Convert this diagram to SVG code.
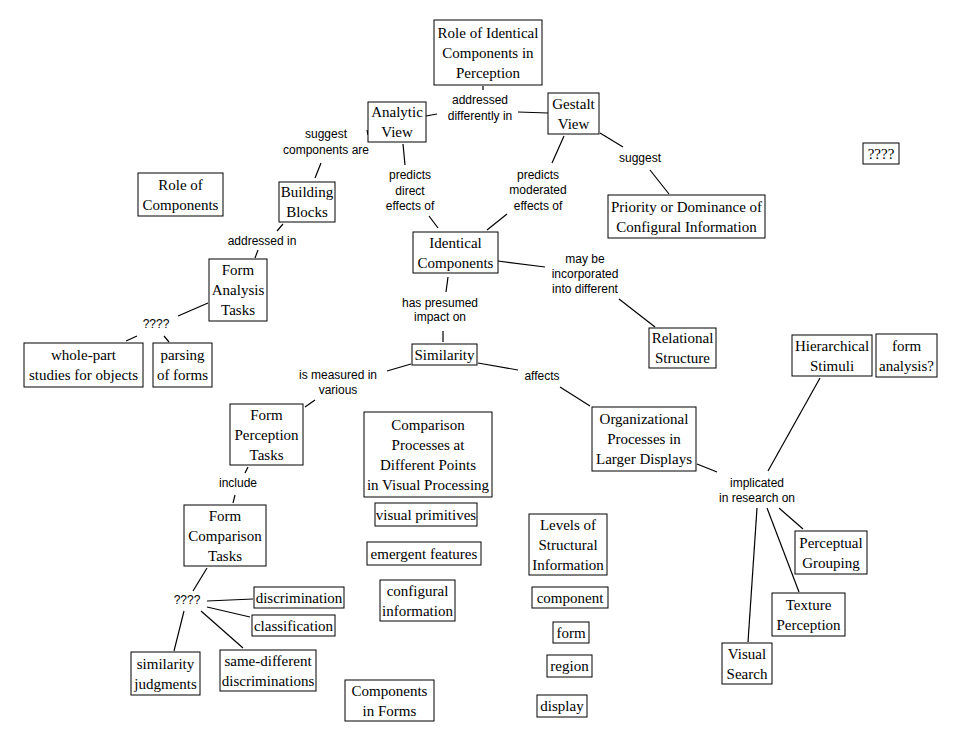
<svg xmlns="http://www.w3.org/2000/svg" width="961" height="742" viewBox="0 0 961 742">
<style>
.n rect{fill:#fff;stroke:#000;stroke-width:1}
.n text{font-family:"Liberation Serif","Times New Roman",serif;font-size:15px;fill:#000;text-anchor:middle}
.l text{font-family:"Liberation Sans",Arial,sans-serif;font-size:12px;fill:#000;text-anchor:middle}
.c line{stroke:#000;stroke-width:1.2}
</style>
<rect width="961" height="742" fill="#fff"/>
<g class="c" id="connectors">
<line x1="483" y1="86" x2="483" y2="90"/>
<line x1="426" y1="116" x2="437" y2="114"/>
<line x1="518" y1="112" x2="548" y2="113"/>
<line x1="367" y1="130" x2="368" y2="135"/>
<line x1="321" y1="163" x2="315" y2="178"/>
<line x1="403" y1="144" x2="405" y2="165"/>
<line x1="429" y1="216" x2="438" y2="228"/>
<line x1="564" y1="136" x2="552" y2="163"/>
<line x1="507" y1="214" x2="487" y2="230"/>
<line x1="600" y1="133" x2="623" y2="147"/>
<line x1="650" y1="170" x2="669" y2="194"/>
<line x1="283" y1="224" x2="277" y2="231"/>
<line x1="258" y1="250" x2="255" y2="258"/>
<line x1="208" y1="303" x2="178" y2="316"/>
<line x1="137" y1="336" x2="126" y2="341"/>
<line x1="164" y1="336" x2="169" y2="342"/>
<line x1="448" y1="277" x2="446" y2="292"/>
<line x1="443" y1="331" x2="443" y2="342"/>
<line x1="498" y1="261" x2="545" y2="267"/>
<line x1="619" y1="299" x2="655" y2="327"/>
<line x1="411" y1="364" x2="387" y2="371"/>
<line x1="315" y1="400" x2="305" y2="407"/>
<line x1="478" y1="363" x2="518" y2="370"/>
<line x1="560" y1="387" x2="590" y2="406"/>
<line x1="697" y1="464" x2="717" y2="472"/>
<line x1="820" y1="378" x2="768" y2="471"/>
<line x1="757" y1="508" x2="748" y2="642"/>
<line x1="767" y1="508" x2="799" y2="592"/>
<line x1="779" y1="508" x2="803" y2="529"/>
<line x1="248" y1="467" x2="245" y2="473"/>
<line x1="235" y1="495" x2="233" y2="503"/>
<line x1="207" y1="568" x2="193" y2="591"/>
<line x1="207" y1="601" x2="253" y2="599"/>
<line x1="207" y1="607" x2="250" y2="617"/>
<line x1="201" y1="611" x2="243" y2="648"/>
<line x1="184" y1="611" x2="174" y2="651"/>
</g>
<g class="l" id="labels">
<text x="480" y="104">addressed</text><text x="480" y="120">differently in</text>
<text x="326" y="138">suggest</text><text x="326" y="154">components are</text>
<text x="410" y="179">predicts</text><text x="410" y="195">direct</text><text x="410" y="210">effects of</text>
<text x="538" y="179">predicts</text><text x="538" y="194">moderated</text><text x="538" y="210">effects of</text>
<text x="640" y="162">suggest</text>
<text x="262" y="245">addressed in</text>
<text x="156" y="328">????</text>
<text x="440" y="307">has presumed</text><text x="440" y="321">impact on</text>
<text x="338" y="379">is measured in</text><text x="338" y="394">various</text>
<text x="542" y="380">affects</text>
<text x="585" y="263">may be</text><text x="585" y="278">incorporated</text><text x="585" y="293">into different</text>
<text x="757" y="487">implicated</text><text x="757" y="502">in research on</text>
<text x="238" y="487">include</text>
<text x="187" y="604">????</text>
</g>
<g class="n" id="n1"><rect x="434" y="20" width="108" height="65"/><text x="488" y="37.5">Role of Identical</text><text x="488" y="57.5">Components in</text><text x="488" y="77.5">Perception</text></g>
<g class="n" id="n2"><rect x="368" y="102" width="58" height="40"/><text x="397" y="117">Analytic</text><text x="397" y="137">View</text></g>
<g class="n" id="n3"><rect x="548" y="93" width="51" height="41"/><text x="573.5" y="108.5">Gestalt</text><text x="573.5" y="128.5">View</text></g>
<g class="n" id="n4"><rect x="279" y="182" width="56" height="40"/><text x="307" y="197">Building</text><text x="307" y="217">Blocks</text></g>
<g class="n" id="n5"><rect x="138" y="173" width="85" height="43"/><text x="180.5" y="189.5">Role of</text><text x="180.5" y="209.5">Components</text></g>
<g class="n" id="n6"><rect x="413" y="232" width="85" height="41"/><text x="455.5" y="247.5">Identical</text><text x="455.5" y="267.5">Components</text></g>
<g class="n" id="n7"><rect x="209" y="259" width="58" height="62"/><text x="238" y="275">Form</text><text x="238" y="295">Analysis</text><text x="238" y="315">Tasks</text></g>
<g class="n" id="n8"><rect x="412" y="344" width="65" height="21"/><text x="444.5" y="359.5">Similarity</text></g>
<g class="n" id="n9"><rect x="24" y="343" width="119" height="44"/><text x="83.5" y="360">whole-part</text><text x="83.5" y="380">studies for objects</text></g>
<g class="n" id="n10"><rect x="153" y="343" width="59" height="44"/><text x="182.5" y="360">parsing</text><text x="182.5" y="380">of forms</text></g>
<g class="n" id="n11"><rect x="608" y="195" width="157" height="43"/><text x="686.5" y="211.5">Priority or Dominance of</text><text x="686.5" y="231.5">Configural Information</text></g>
<g class="n" id="n12"><rect x="863" y="143" width="36" height="21"/><text x="881" y="158.5">????</text></g>
<g class="n" id="n13"><rect x="649" y="328" width="67" height="40"/><text x="682.5" y="343">Relational</text><text x="682.5" y="363">Structure</text></g>
<g class="n" id="n14"><rect x="792" y="335" width="80" height="41"/><text x="832" y="350.5">Hierarchical</text><text x="832" y="370.5">Stimuli</text></g>
<g class="n" id="n15"><rect x="876" y="334" width="61" height="43"/><text x="906.5" y="350.5">form</text><text x="906.5" y="370.5">analysis?</text></g>
<g class="n" id="n16"><rect x="592" y="407" width="104" height="64"/><text x="644" y="424">Organizational</text><text x="644" y="444">Processes in</text><text x="644" y="464">Larger Displays</text></g>
<g class="n" id="n17"><rect x="230" y="404" width="73" height="61"/><text x="266.5" y="419.5">Form</text><text x="266.5" y="439.5">Perception</text><text x="266.5" y="459.5">Tasks</text></g>
<g class="n" id="n18"><rect x="364" y="412" width="128" height="85"/><text x="428" y="429.5">Comparison</text><text x="428" y="449.5">Processes at</text><text x="428" y="469.5">Different Points</text><text x="428" y="489.5">in Visual Processing</text></g>
<g class="n" id="n19"><rect x="375" y="503" width="102" height="23"/><text x="426" y="519.5">visual primitives</text></g>
<g class="n" id="n20"><rect x="367" y="542" width="114" height="23"/><text x="424" y="558.5">emergent features</text></g>
<g class="n" id="n21"><rect x="380" y="580" width="75" height="41"/><text x="417.5" y="595.5">configural</text><text x="417.5" y="615.5">information</text></g>
<g class="n" id="n22"><rect x="184" y="505" width="82" height="61"/><text x="225" y="520.5">Form</text><text x="225" y="540.5">Comparison</text><text x="225" y="560.5">Tasks</text></g>
<g class="n" id="n23"><rect x="254" y="587" width="90" height="21"/><text x="299" y="602.5">discrimination</text></g>
<g class="n" id="n24"><rect x="252" y="615" width="83" height="21"/><text x="293.5" y="630.5">classification</text></g>
<g class="n" id="n25"><rect x="131" y="652" width="69" height="43"/><text x="165.5" y="668.5">similarity</text><text x="165.5" y="688.5">judgments</text></g>
<g class="n" id="n26"><rect x="220" y="650" width="96" height="41"/><text x="268" y="665.5">same-different</text><text x="268" y="685.5">discriminations</text></g>
<g class="n" id="n27"><rect x="345" y="680" width="89" height="41"/><text x="389.5" y="695.5">Components</text><text x="389.5" y="715.5">in Forms</text></g>
<g class="n" id="n28"><rect x="529" y="514" width="78" height="61"/><text x="568" y="529.5">Levels of</text><text x="568" y="549.5">Structural</text><text x="568" y="569.5">Information</text></g>
<g class="n" id="n29"><rect x="532" y="587" width="76" height="21"/><text x="570" y="602.5">component</text></g>
<g class="n" id="n30"><rect x="553" y="622" width="36" height="21"/><text x="571" y="637.5">form</text></g>
<g class="n" id="n31"><rect x="547" y="655" width="45" height="22"/><text x="569.5" y="671">region</text></g>
<g class="n" id="n32"><rect x="537" y="695" width="50" height="22"/><text x="562" y="711">display</text></g>
<g class="n" id="n33"><rect x="795" y="531" width="72" height="43"/><text x="831" y="547.5">Perceptual</text><text x="831" y="567.5">Grouping</text></g>
<g class="n" id="n34"><rect x="772" y="593" width="73" height="43"/><text x="808.5" y="609.5">Texture</text><text x="808.5" y="629.5">Perception</text></g>
<g class="n" id="n35"><rect x="722" y="643" width="50" height="41"/><text x="747" y="658.5">Visual</text><text x="747" y="678.5">Search</text></g>
</svg>
